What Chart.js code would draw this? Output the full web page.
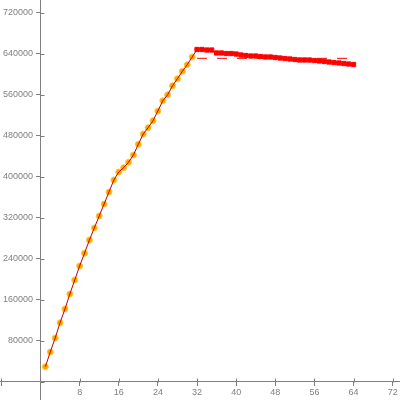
<!DOCTYPE html>
<html>
<head>
<meta charset="utf-8">
<script src="https://cdn.jsdelivr.net/npm/chart.js@4"></script>
<style>
  body { margin: 0; background: #fff; }
</style>
</head>
<body>
<canvas id="chart" width="400" height="400"></canvas>
<script>
// rising part (orange points)
var riseX = [1,2,3,4,5,6,7,8,9,10,11,12,13,14,15,16,17,18,19,20,21,22,23,24,25,26,27,28,29,30,31];
var riseY = [29300,58000,85300,115100,141900,171100,198400,225800,250700,276500,300000,323300,
  346700,370100,393600,409200,417600,428100,442300,463200,483300,495600,509300,528200,548300,
  560000,577600,591200,605700,618500,633500];

// flat part (red points)
var flatX = [32,33,34,35,36,37,38,39,40,41,42,43,44,45,46,47,48,49,50,51,52,53,54,55,56,57,58,59,60,61,62,63,64];
var flatY = [648200,648200,647200,647200,641400,641400,640400,640400,639400,637500,636500,635500,
  635500,634500,633600,633600,632600,631600,630600,629700,628700,627700,627700,627700,626700,
  625800,624800,623800,622800,621900,620900,619900,618900];

// dashed reference level
var refX = [32, 64];
var refLevel = 631000;

// tick values
var xTicks = [-8, 0, 8, 16, 24, 32, 40, 48, 56, 64, 72];
var yTicks = [0, 80000, 160000, 240000, 320000, 400000, 480000, 560000, 640000, 720000];

// axis range
var xMin = -8.28, xMax = 73.5;
var yMin = -35700, yMax = 744800;

function pts(xs, ys) {
  var out = [];
  for (var i in xs) out.push({ x: xs[i], y: ys[i] });
  return out;
}
var refPts = [];
for (var i in refX) refPts.push({ x: refX[i], y: refLevel });

var axisColor = '#808080';

// small tick marks on the inner side, so ticks cross the axis line
var crossTicks = {
  id: 'crossTicks',
  afterDraw: function(chart) {
    var c = chart.ctx, sx = chart.scales.x, sy = chart.scales.y;
    var x0 = Math.round(sx.getPixelForValue(0)) + 0.5;
    var y0 = Math.round(sy.getPixelForValue(0)) + 0.5;
    c.save();
    c.strokeStyle = axisColor;
    c.lineWidth = 1;
    c.beginPath();
    sx.ticks.forEach(function(t) {
      var px = Math.round(sx.getPixelForValue(t.value)) + 0.5;
      c.moveTo(px, y0);
      c.lineTo(px, y0 - 4);
    });
    sy.ticks.forEach(function(t) {
      var py = Math.round(sy.getPixelForValue(t.value)) + 0.5;
      c.moveTo(x0, py);
      c.lineTo(x0 + 4, py);
    });
    c.stroke();
    c.restore();
  }
};

function noPad(s) {
  s.paddingTop = 0; s.paddingBottom = 0;
  s.paddingLeft = 0; s.paddingRight = 0;
}

var ctx = document.getElementById('chart');
var chart = new Chart(ctx, {
  type: 'scatter',
  data: {
    datasets: [
      {
        label: 'flat',
        data: pts(flatX, flatY),
        showLine: false,
        pointStyle: 'rect',
        pointRadius: 3,
        backgroundColor: '#ff0000',
        borderColor: '#ff0000',
        borderWidth: 1,
        order: 1
      },
      {
        label: 'line',
        data: pts(riseX.concat(flatX), riseY.concat(flatY)),
        showLine: true,
        pointRadius: 0,
        borderColor: '#c00000',
        borderWidth: 1,
        order: 2
      },
      {
        label: 'ref',
        data: refPts,
        showLine: true,
        pointRadius: 0,
        borderColor: '#ff0000',
        borderWidth: 1,
        borderDash: [10, 10],
        order: 3
      },
      {
        label: 'rise',
        data: pts(riseX, riseY),
        showLine: false,
        pointRadius: 3,
        backgroundColor: '#ffa500',
        borderColor: '#ffc830',
        borderWidth: 1,
        order: 4
      }
    ]
  },
  options: {
    responsive: false,
    animation: false,
    layout: { padding: 0, autoPadding: false },
    plugins: {
      legend: { display: false },
      tooltip: { enabled: false }
    },
    elements: { line: { tension: 0 } },
    scales: {
      x: {
        type: 'linear',
        min: xMin,
        max: xMax,
        position: { y: 0 },
        afterFit: noPad,
        afterBuildTicks: function(s) {
          s.ticks = xTicks.map(function(v) { return { value: v }; });
        },
        grid: { drawOnChartArea: false, color: axisColor, tickLength: 4 },
        border: { color: axisColor, width: 1 },
        ticks: {
          maxRotation: 0,
          autoSkip: false,
          padding: 1,
          color: axisColor,
          font: { family: 'Liberation Sans', size: 9 },
          callback: function(v) { return v > 0 ? v : ''; }
        }
      },
      y: {
        type: 'linear',
        min: yMin,
        max: yMax,
        position: { x: 0 },
        afterFit: noPad,
        afterBuildTicks: function(s) {
          s.ticks = yTicks.map(function(v) { return { value: v }; });
        },
        grid: { drawOnChartArea: false, color: axisColor, tickLength: 4 },
        border: { color: axisColor, width: 1 },
        ticks: {
          autoSkip: false,
          color: axisColor,
          font: { family: 'Liberation Sans', size: 9 },
          // labels sit right on the axis line here, trailing spaces keep them off it
          callback: function(v) { return v > 0 ? v + '   ' : ''; }
        }
      }
    }
  },
  plugins: [crossTicks]
});
</script>
</body>
</html>
